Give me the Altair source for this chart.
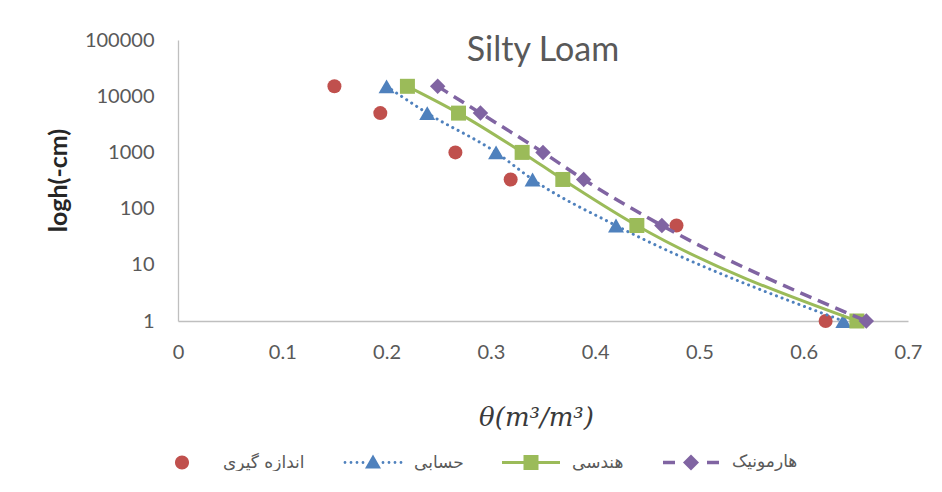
import altair as alt
import pandas as pd

# ---- data ----
suction = [15000, 5000, 1000, 330, 50, 1]
series_names = ["اندازه گیری", "حسابی", "هندسی", "هارمونیک"]
theta_measured = [0.150, 0.194, 0.266, 0.319, 0.478, 0.621]
theta_arith = [0.200, 0.239, 0.305, 0.340, 0.420, 0.638]
theta_geo = [0.220, 0.269, 0.330, 0.369, 0.440, 0.651]
theta_harm = [0.249, 0.290, 0.350, 0.389, 0.464, 0.660]
x_ticks = [0, 0.1, 0.2, 0.3, 0.4, 0.5, 0.6, 0.7]
y_ticks = [1, 10, 100, 1000, 10000, 100000]

colors = ["#C0504D", "#4F81BD", "#9BBB59", "#8064A2"]

rows = []
for name, vals in zip(series_names, [theta_measured, theta_arith, theta_geo, theta_harm]):
    for h, t in zip(suction, vals):
        rows.append({"series": name, "theta": t, "h": h})
df = pd.DataFrame(rows)

# ---- legend symbols (custom paths in a [-1,1] box) ----
u = 1 / 29.0

def f(v):
    return f"{v:.4f}"

def rect(x0, x1, y0, y1):
    return f"M{f(x0)},{f(y0)}H{f(x1)}V{f(y1)}H{f(x0)}Z"

def circ(cx, r):
    return (f"M{f(cx + r)},0A{f(r)},{f(r)} 0 1,1 {f(cx - r)},0"
            f"A{f(r)},{f(r)} 0 1,1 {f(cx + r)},0Z")

sym_measured = circ(0, 7 * u)
sym_arith = f"M0,{f(-8*u)}L{f(8*u)},{f(6*u)}L{f(-8*u)},{f(6*u)}Z" + "".join(
    circ(s * (10 + 6 * k) * u, 1.4 * u) for s in (-1, 1) for k in range(4))
sym_geo = rect(-29 * u, 29 * u, -1.5 * u, 1.5 * u) + rect(-7.5 * u, 7.5 * u, -7.5 * u, 7.5 * u)
sym_harm = (rect(-28 * u, -16 * u, -1.7 * u, 1.7 * u) + rect(16 * u, 28 * u, -1.7 * u, 1.7 * u)
            + f"M{f(-8*u)},0L0,{f(-8*u)}L{f(8*u)},0L0,{f(8*u)}Z")
legend_shapes = [sym_measured, sym_arith, sym_geo, sym_harm]

x_enc = alt.X("theta:Q", scale=alt.Scale(domain=[0, 0.7], nice=False, zero=False),
              axis=alt.Axis(values=x_ticks, format=".1~f", title="θ(m³/m³)",
                            titleX=358, titleY=96, titleBaseline="middle",
                            titleFont="DejaVu Serif", titleFontStyle="italic",
                            titleFontSize=26, titleFontWeight="normal", titleColor="#3a3a3a",
                            labelPadding=21, labelFlush=False))
y_enc = alt.Y("h:Q", scale=alt.Scale(type="log", domain=[1, 100000], nice=False),
              axis=alt.Axis(values=y_ticks, format="d", title="logh(-cm)",
                            titleX=-120, titleY=140, titleAngle=-90, titleBaseline="middle",
                            titleFontSize=25, titleFontWeight="bold", titleColor="#262626",
                            titleFont="Lato", labelPadding=24))

base = alt.Chart(df)

line_styles = {
    1: dict(strokeDash=[0.1, 5.9], strokeCap="round", strokeWidth=3),
    2: dict(strokeWidth=3),
    3: dict(strokeDash=[12, 7], strokeWidth=3.5),
}
point_styles = [("circle", 196), ("triangle-up", 256), ("square", 225), ("diamond", 240)]

layers = []
for i, name in enumerate(series_names):
    sub = base.transform_filter(alt.datum.series == name)
    if i in line_styles:
        layers.append(sub.mark_line(interpolate="monotone", color=colors[i], **line_styles[i])
                      .encode(x=x_enc, y=y_enc))
    shp, sz = point_styles[i]
    layers.append(sub.mark_point(shape=shp, size=sz, filled=True, opacity=1, color=colors[i])
                  .encode(x=x_enc, y=y_enc))

legend_props = dict(title=None, orient="none", legendX=-25, legendY=393,
                    direction="horizontal", symbolSize=3364,
                    symbolStrokeWidth=0, labelOffset=12, columnPadding=38,
                    labelFont="DejaVu Sans", labelFontSize=17,
                    labelColor="#595959")

legend_layer = base.transform_filter(alt.datum.h < 0).mark_point(filled=True, opacity=1).encode(
    x=x_enc, y=y_enc,
    color=alt.Color("series:N", scale=alt.Scale(domain=series_names, range=colors),
                    legend=alt.Legend(**legend_props)),
    shape=alt.Shape("series:N", scale=alt.Scale(domain=series_names, range=legend_shapes),
                    legend=alt.Legend(**legend_props)),
)

chart = alt.layer(*layers, legend_layer).properties(
    width=730, height=281,
    title=alt.TitleParams("Silty Loam", font="Lato", fontSize=34, fontWeight="normal",
                          color="#595959", anchor="middle", baseline="alphabetic", offset=-65),
    autosize=alt.AutoSizeParams(type="none"),
    padding={"left": 170, "top": 32, "right": 20, "bottom": 150},
).configure_view(stroke=None).configure_axis(
    grid=False, ticks=False, domainColor="#bfbfbf", domainWidth=1.3,
    labelFont="Lato", labelFontSize=20, labelColor="#595959",
)

chart.save("out.html", embed_options={"renderer": "svg", "actions": False})
